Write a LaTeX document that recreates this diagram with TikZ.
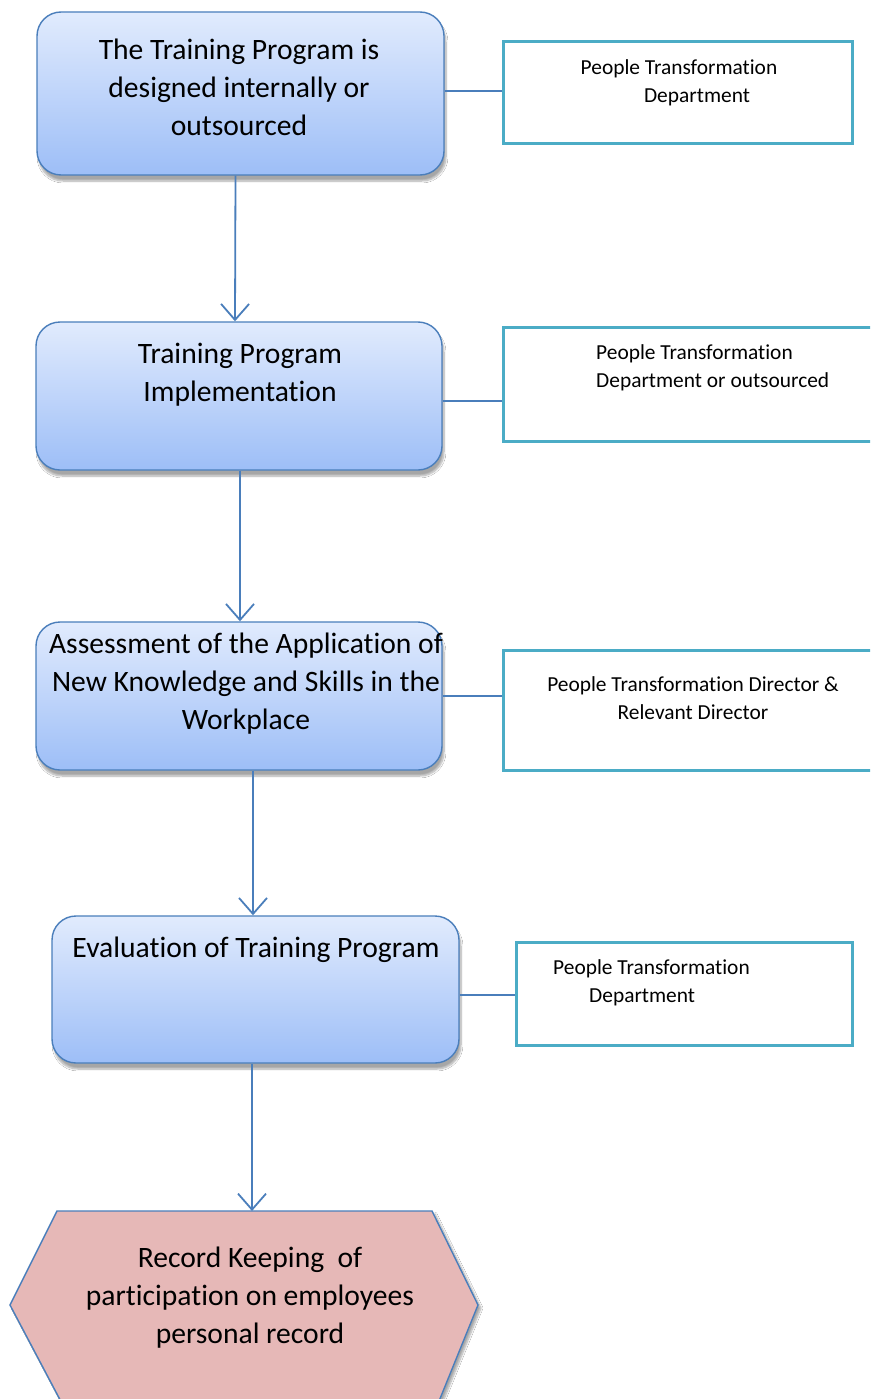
\documentclass[tikz,border=0pt]{standalone}
\usepackage{fontspec}
\setmainfont[Ligatures=NoCommon]{Carlito}
\usetikzlibrary{arrows.meta,shadows.blur}

\definecolor{flowline}{HTML}{4A7EBB}
\definecolor{boxtop}{HTML}{E1EBFD}
\definecolor{boxbottom}{HTML}{9DBEF7}
\definecolor{teal}{HTML}{4BACC6}
\definecolor{hexfill}{HTML}{E6B8B7}

\tikzset{
  stagebox/.style={draw=flowline, line width=1.4pt, rounded corners=24pt,
    top color=boxtop, bottom color=boxbottom, inner sep=0pt,
    blur shadow={shadow xshift=2pt, shadow yshift=-6pt, shadow blur steps=8, shadow opacity=35}},
  ownerbox/.style={draw=teal, line width=3pt, fill=white, inner sep=0pt},
  bigtext/.style={font=\fontsize{29.6}{38}\selectfont, align=center, inner sep=0pt},
  smalltext/.style={font=\fontsize{21.4}{28.5}\selectfont, inner sep=0pt},
  flow/.style={draw=flowline, line width=1.8pt, -{Straight Barb[length=16pt,width=28pt,line width=1.8pt]}},
  link/.style={draw=flowline, line width=1.8pt},
}

\begin{document}
\begin{tikzpicture}[x=1pt,y=-1pt]
  \clip (0,0) rectangle (870,1399);
  \fill[white] (0,0) rectangle (870,1399);

  % process stages
  \node[stagebox, minimum width=407pt, minimum height=163pt] (b1) at (240.5,93.5) {};
  \node[stagebox, minimum width=406pt, minimum height=148pt] (b2) at (239,396) {};
  \node[stagebox, minimum width=406pt, minimum height=148pt] (b3) at (239,696) {};
  \node[stagebox, minimum width=407pt, minimum height=147pt] (b4) at (255.5,989.5) {};

  \node[bigtext] (t1) at (239,87) {The Training Program is\\designed internally or\\outsourced};
  \node[bigtext] (t2) at (240,375) {Training Program\\Implementation};
  \node[bigtext] (t3) at (246,684) {Assessment of the Application of\\New Knowledge and Skills in the\\Workplace};
  \node[bigtext] (t4) at (256,950) {Evaluation of Training Program};

  % responsible parties
  \node[ownerbox, minimum width=349pt, minimum height=102pt] (r1) at (677.5,93) {};
  \node[ownerbox, minimum width=380pt, minimum height=114pt] (r2) at (693,384) {};
  \node[ownerbox, minimum width=380pt, minimum height=120pt] (r3) at (693,710) {};
  \node[ownerbox, minimum width=336pt, minimum height=103pt] (r4) at (684,993.5) {};

  \node[smalltext, align=center] (s1) at (679,83) {People Transformation\\\hspace*{36pt}Department};
  \node[smalltext, align=left, anchor=west] (s2) at (596,368) {People Transformation\\Department or outsourced};
  \node[smalltext, align=center] (s3) at (693,698) {People Transformation Director \&\\Relevant Director};
  \node[smalltext, align=left, anchor=west] (s4) at (553,983) {People Transformation\\\hspace*{36pt}Department};

  % final record-keeping step
  \coordinate (hA) at (57,1211);
  \coordinate (hB) at (432,1211);
  \coordinate (hC) at (478,1305);
  \coordinate (hD) at (435,1411);
  \coordinate (hE) at (66,1411);
  \coordinate (hF) at (10,1305);
  \coordinate (htop) at (252,1211);
  \path[fill=hexfill, draw=flowline, line width=1.4pt,
    blur shadow={shadow xshift=3pt, shadow yshift=-3pt, shadow blur steps=8, shadow opacity=35}]
    (hA) -- (hB) -- (hC) -- (hD) -- (hE) -- (hF) -- cycle;
  \node[bigtext] (t5) at (250,1298) {Record Keeping~ of\\participation on employees\\personal record};

  % connectors
  \draw[flow] ([xshift=-5pt]b1.south) -- ([xshift=-4pt]b2.north);
  \draw[flow] ([xshift=1pt]b2.south) -- ([xshift=1pt]b3.north);
  \draw[flow] (b3.south -| 253,0) -- (b4.north -| 253,0);
  \draw[flow] ([xshift=-3.5pt]b4.south) -- (htop);

  \draw[link] ([yshift=2.5pt]b1.east) -- ([yshift=2.5pt]b1.east -| r1.west);
  \draw[link] ([yshift=-5pt]b2.east) -- ([yshift=-5pt]b2.east -| r2.west);
  \draw[link] (b3.east) -- (b3.east -| r3.west);
  \draw[link] ([yshift=-5.5pt]b4.east) -- ([yshift=-5.5pt]b4.east -| r4.west);
\end{tikzpicture}
\end{document}
